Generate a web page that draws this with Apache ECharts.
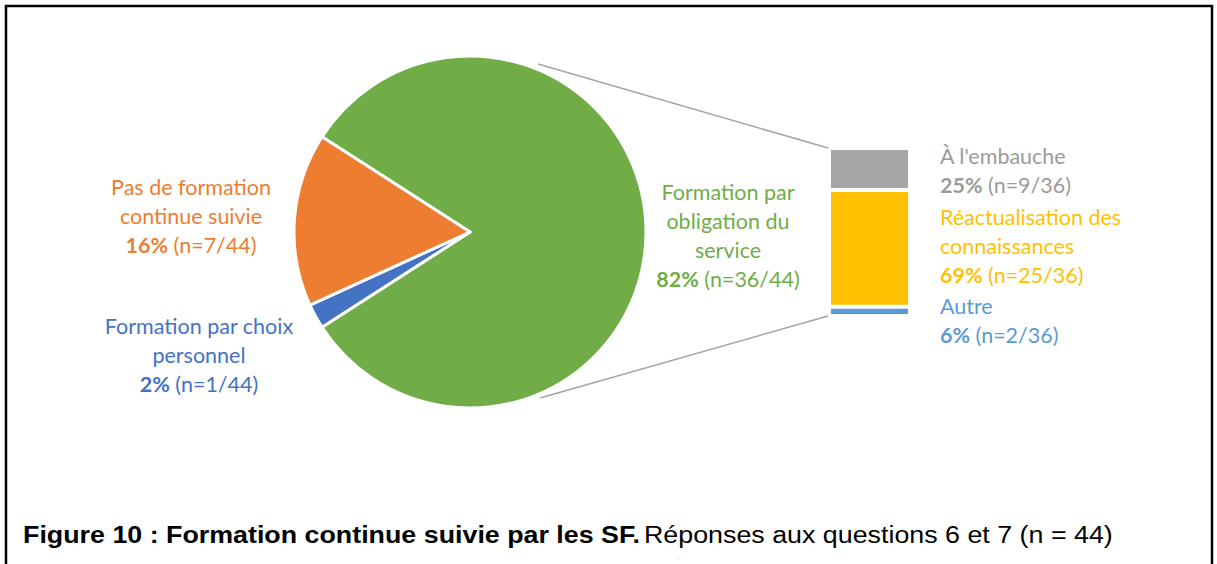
<!DOCTYPE html>
<html>
<head>
<meta charset="utf-8">
<script src="https://cdn.jsdelivr.net/npm/echarts@6/dist/echarts.min.js"></script>
<style>
  html, body { margin: 0; padding: 0; background: #fff; }
  #chart { width: 1217px; height: 564px; }
</style>
</head>
<body>
<div id="chart"></div>
<script>
// pie: formation continue (n = 44)
var pieNames = ['Formation par\nobligation du\nservice', 'Formation par choix\npersonnel', 'Pas de formation\ncontinue suivie'];
var pieValues = [36, 1, 7];
var pieTotal = 44;
var pieColors = ['#70AD47', '#4472C4', '#ED7D31'];

// bar: détail de la formation par obligation (n = 36), bottom to top
var barNames = ['Autre', 'Réactualisation des\nconnaissances', "À l'embauche"];
var barValues = [2, 25, 9];
var barTotal = 36;
var barColors = ['#5B9BD5', '#FFC000', '#A5A5A5'];
var barTextColors = ['#5B9BD5', '#FFC000', '#9B9B9B'];

var FONT = 'Lato';
var FS = 21.5;

function richLabel(name, value, total) {
    var pct = Math.round(value / total * 100);
    var lines = name.split('\n').map(function(l) { return '{n|' + l + '}'; });
    lines.push('{b|' + pct + '%} {n|(n=' + value + '/' + total + ')}');
    return lines.join('\n');
}

var mChart = echarts.init(document.getElementById('chart'), null, { renderer: 'svg' });

// label anchors for the pie (center x, top y)
var pieLabelPos = [[728, 177], [199, 311], [191, 172]];

var pieData = pieValues.map(function(v, i) {
    return {
        name: pieNames[i],
        value: v,
        itemStyle: { color: pieColors[i] },
        label: { color: pieColors[i] }
    };
});

var angleStart = pieValues[0] / pieTotal * 180;

// offsets of the bar labels relative to each block
var barLabelOffsets = [[111, -15], [111, 12], [111, -7]];

var barSeries = barValues.map(function(v, i) {
    return {
        type: 'bar',
        name: barNames[i],
        stack: 'total',
        barWidth: '100%',
        data: [v],
        itemStyle: { color: barColors[i], borderColor: '#fff', borderWidth: 2 },
        label: {
            show: true,
            position: barLabelOffsets[i],
            align: 'left',
            verticalAlign: 'top',
            color: barTextColors[i],
            fontFamily: FONT,
            fontSize: FS,
            lineHeight: 29,
            formatter: richLabel(barNames[i], v, barTotal),
            rich: {
                n: { fontFamily: FONT, fontSize: FS, lineHeight: 29 },
                b: { fontFamily: FONT, fontSize: FS, lineHeight: 29, fontWeight: 'bold' }
            }
        },
        silent: true
    };
});

var option = {
    animation: false,
    backgroundColor: '#fff',
    grid: { left: 829, top: 148, width: 81, height: 168 },
    xAxis: { type: 'category', data: [''], show: false },
    yAxis: { type: 'value', min: 0, max: barTotal, show: false },
    series: [{
        type: 'pie',
        center: [470, 232],
        radius: 176,
        startAngle: angleStart,
        clockwise: true,
        data: pieData,
        itemStyle: { borderColor: '#fff', borderWidth: 3 },
        labelLine: { show: false },
        label: {
            show: true,
            position: 'outside',
            fontFamily: FONT,
            fontSize: FS,
            lineHeight: 29,
            align: 'center',
            formatter: function(p) { return richLabel(p.name, p.value, pieTotal); },
            rich: {
                n: { fontFamily: FONT, fontSize: FS, lineHeight: 29, align: 'center' },
                b: { fontFamily: FONT, fontSize: FS, lineHeight: 29, fontWeight: 'bold', align: 'center' }
            }
        },
        labelLayout: function(params) {
            var p = pieLabelPos[params.dataIndex];
            return { x: p[0], y: p[1], align: 'center', verticalAlign: 'top' };
        },
        silent: true
    }].concat(barSeries),
    graphic: [
        { type: 'line', shape: { x1: 538, y1: 64, x2: 828, y2: 148 }, style: { stroke: '#A5A5A5', lineWidth: 1.5 } },
        { type: 'line', shape: { x1: 540, y1: 398, x2: 828, y2: 316 }, style: { stroke: '#A5A5A5', lineWidth: 1.5 } },
        { type: 'rect', shape: { x: 6, y: 6, width: 1206, height: 620 }, style: { fill: 'none', stroke: '#000', lineWidth: 2.5 } },
        {
            type: 'text', x: 23, y: 535, scaleX: 1.118,
            style: {
                x: 0, y: 0, verticalAlign: 'middle',
                text: '{b|Figure 10 : Formation continue suivie par les SF.} {n|Réponses aux questions 6 et 7 (n = 44)}',
                rich: {
                    b: { fontFamily: 'Liberation Sans', fontSize: 24, fontWeight: 'bold', fill: '#000' },
                    n: { fontFamily: 'Liberation Sans', fontSize: 24, fill: '#000' }
                }
            }
        }
    ]
};

mChart.setOption(option);
</script>
</body>
</html>
